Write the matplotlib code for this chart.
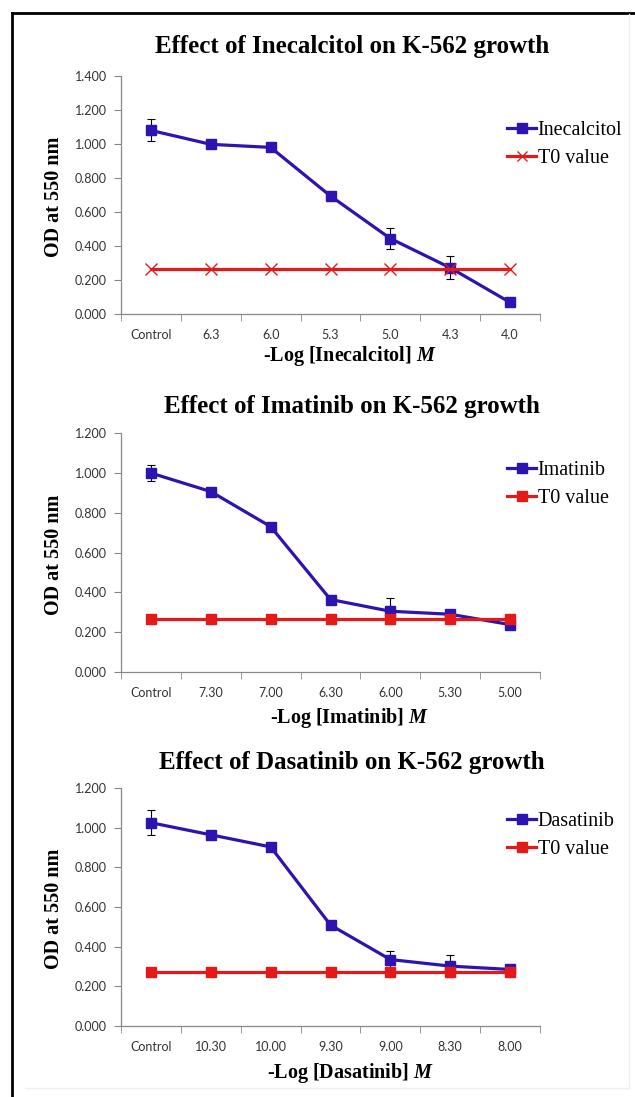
import matplotlib
matplotlib.use("Agg")
import matplotlib.pyplot as plt
from matplotlib.lines import Line2D

plt.rcParams["mathtext.fontset"] = "custom"
plt.rcParams["mathtext.it"] = "Liberation Serif:bold:italic"
plt.rcParams["mathtext.rm"] = "Liberation Serif:bold"

# ---------------- data ----------------
inec_cats = ["Control", "6.3", "6.0", "5.3", "5.0", "4.3", "4.0"]
inec_vals = [1.080, 0.998, 0.980, 0.694, 0.444, 0.272, 0.068]
inec_err = [0.065, 0.0, 0.0, 0.0, 0.062, 0.068, 0.020]
inec_t0 = [0.262] * 7

imat_cats = ["Control", "7.30", "7.00", "6.30", "6.00", "5.30", "5.00"]
imat_vals = [0.999, 0.906, 0.730, 0.364, 0.305, 0.290, 0.238]
imat_err = [0.042, 0.0, 0.0, 0.0, 0.066, 0.010, 0.020]
imat_t0 = [0.265] * 7

dasa_cats = ["Control", "10.30", "10.00", "9.30", "9.00", "8.30", "8.00"]
dasa_vals = [1.025, 0.964, 0.903, 0.509, 0.335, 0.302, 0.285]
dasa_err = [0.063, 0.0, 0.0, 0.0, 0.045, 0.057, 0.008]
dasa_t0 = [0.270] * 7

titles = ["Effect of Inecalcitol on K-562 growth",
          "Effect of Imatinib on K-562 growth",
          "Effect of Dasatinib on K-562 growth"]
drugs = ["Inecalcitol", "Imatinib", "Dasatinib"]
ymaxes = [1.4, 1.2, 1.2]

# ---------------- layout (pixels) ----------------
W, H = 635, 1097
fig = plt.figure(figsize=(W / 100, H / 100), dpi=100)

BLUE = "#2B14B0"
RED = "#E41A1A"
SERIF = ["Liberation Serif", "DejaVu Serif"]
SANS = ["Lato", "DejaVu Sans"]

def fx(px):
    return px / W

def fy(py):
    return 1 - py / H

panels = [
    dict(top=76, bot=314, title=47, xlab=356, leg=133, t0marker="x"),
    dict(top=433, bot=672, title=407, xlab=718, leg=473, t0marker="s"),
    dict(top=788, bot=1026, title=762, xlab=1073, leg=824, t0marker="s"),
]
data = [
    (inec_cats, inec_vals, inec_err, inec_t0),
    (imat_cats, imat_vals, imat_err, imat_t0),
    (dasa_cats, dasa_vals, dasa_err, dasa_t0),
]

AX_L, AX_R = 121, 540

for i, p in enumerate(panels):
    cats, vals, err, t0 = data[i]
    ax = fig.add_axes([fx(AX_L), fy(p["bot"]), fx(AX_R - AX_L), (p["bot"] - p["top"]) / H])
    x = list(range(len(cats)))
    ax.errorbar(x, vals, yerr=err, fmt="none",
                ecolor="black", elinewidth=0.8, capsize=3, capthick=0.8, zorder=2)
    ax.plot(x, vals, color=BLUE, lw=2.3, marker="s", ms=7.5, mfc=BLUE, mec=BLUE,
            label=drugs[i], zorder=3)
    if p["t0marker"] == "x":
        ax.plot(x, t0, color=RED, lw=2.3, marker="x", ms=8, mew=1.0,
                label="T0 value", zorder=4)
    else:
        ax.plot(x, t0, color=RED, lw=2.3, marker="s", ms=7.5, mfc=RED, mec=RED,
                label="T0 value", zorder=4)

    n = int(round(ymaxes[i] / 0.2)) + 1
    ax.set_xlim(-0.5, len(cats) - 0.5)
    ax.set_ylim(0, ymaxes[i])
    ax.set_yticks([k * 0.2 for k in range(n)])
    ax.set_yticklabels([f"{k * 0.2:.3f}" for k in range(n)],
                       fontfamily=SANS, fontsize=9, color="#333333")
    ax.set_xticks(x)
    ax.set_xticklabels(cats, fontfamily=SANS, fontsize=9, color="#333333")
    ax.set_xticks([k - 0.5 for k in range(len(cats) + 1)], minor=True)
    ax.tick_params(axis="x", which="major", length=0, pad=11)
    ax.tick_params(axis="x", which="minor", length=5, color="#888888", direction="out")
    ax.tick_params(axis="y", length=5, color="#888888", direction="out", pad=5)
    for s in ["top", "right"]:
        ax.spines[s].set_visible(False)
    for s in ["left", "bottom"]:
        ax.spines[s].set_color("#888888")
        ax.spines[s].set_linewidth(0.9)
    ax.set_facecolor("none")

    fig.text(fx(352), fy(p["title"]), titles[i], ha="center", va="center",
             fontfamily=SERIF, fontweight="bold", fontsize=18)
    fig.text(fx(350), fy(p["xlab"]), f"-Log [{drugs[i]}] $M$",
             ha="center", va="center", fontfamily=SERIF, fontweight="bold", fontsize=14.5)
    fig.text(fx(54), fy((p["top"] + p["bot"]) / 2 + 2), "OD at 550 nm", rotation=90,
             ha="center", va="center", fontfamily=SERIF, fontweight="bold", fontsize=14.5)

    ax.legend(loc="upper left", bbox_to_anchor=(fx(507), fy(p["leg"] - 12)),
              bbox_transform=fig.transFigure, frameon=False,
              prop=dict(family=SERIF, size=14.5), handlelength=1.45,
              handletextpad=0.08, labelspacing=0.42, borderpad=0, borderaxespad=0,
              markerscale=0.9)

# outer frame
fig.add_artist(Line2D([fx(12), fx(12)], [fy(13), 0], color="black", lw=2,
                      transform=fig.transFigure))
fig.add_artist(Line2D([fx(12), 1], [fy(13), fy(13)], color="black", lw=2,
                      transform=fig.transFigure))
fig.add_artist(Line2D([fx(629), fx(629)], [fy(14), fy(1088)], color="#EEEEEE", lw=1,
                      transform=fig.transFigure))
fig.add_artist(Line2D([fx(25), fx(629)], [fy(1088), fy(1088)], color="#EEEEEE", lw=1,
                      transform=fig.transFigure))

fig.savefig("out.png", dpi=100)
